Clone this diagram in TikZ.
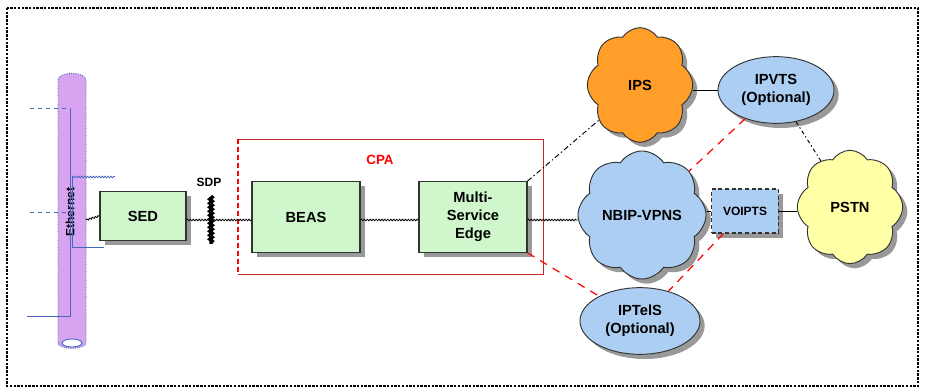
\documentclass[tikz,border=0pt]{standalone}
\usepackage{fontspec}
\setmainfont{Liberation Sans}
\usetikzlibrary{shapes.geometric,shapes.symbols,shadows,decorations.pathmorphing}
\definecolor{boxgreen}{RGB}{208,246,204}
\definecolor{netblue}{RGB}{172,206,242}
\definecolor{ipsorange}{RGB}{255,158,40}
\definecolor{pstnyellow}{RGB}{255,255,165}
\definecolor{ethpurple}{RGB}{216,164,242}
\definecolor{ethline}{RGB}{70,105,190}
\definecolor{cpared}{RGB}{200,40,40}
\begin{document}
\begin{tikzpicture}[x=0.75pt,y=-0.75pt,font=\bfseries\color{black!80}]
      \tikzstyle{shadowed}=[drop shadow={shadow xshift=3.5pt,shadow yshift=-3.5pt,fill=gray!80,opacity=1}]
      \tikzstyle{box}=[draw=black!80,line width=0.8pt,fill=boxgreen,shadowed,align=center,font=\fontsize{11}{13.5}\selectfont\bfseries]
      \tikzstyle{net}=[draw=black!80,line width=0.7pt,cloud,cloud puffs=8,cloud puff arc=115,aspect=1,shadowed,inner sep=0pt,font=\fontsize{11}{13.5}\selectfont\bfseries]
      \tikzstyle{oval}=[draw=black!80,line width=0.7pt,ellipse,fill=netblue,shadowed,inner sep=0pt,align=center,font=\fontsize{11}{13.5}\selectfont\bfseries]
      \tikzstyle{wave}=[draw,line width=0.6pt,decorate,decoration={snake,amplitude=0.6pt,segment length=2.2pt}]
      \tikzstyle{link}=[draw,line width=0.7pt]
      \tikzstyle{optlink}=[draw,red,line width=0.9pt,dash pattern=on 6pt off 5pt]
      \useasboundingbox (0,0) rectangle (925,391);
      \path[draw,line width=1.8pt,densely dotted] (7,8) rectangle (918,386);
      % ethernet bus
      \path[draw=ethline,densely dotted,line width=0.7pt,fill=ethpurple] (58,343) -- (58,80) arc[start angle=180,end angle=0,x radius=10.5pt,y radius=5pt] -- (86,343) arc[start angle=0,end angle=-180,x radius=10.5pt,y radius=4pt] -- cycle;
      \path[draw=ethline,line width=0.7pt,fill=white] (72,343) ellipse[x radius=7.5pt,y radius=3pt];
      \node[rotate=90,font=\fontsize{9}{10}\selectfont\bfseries] (ethlbl) at (70,212) {Ethernet};
      \coordinate (h1) at (30,108);
      \coordinate (h1b) at (70,108);
      \coordinate (h2) at (27,316);
      \coordinate (h2b) at (70,316);
      \coordinate (h3) at (30,212);
      \coordinate (h3b) at (70,212);
      \coordinate (h4) at (72,177);
      \coordinate (h4b) at (115,177);
      \coordinate (h5) at (72,247);
      \coordinate (h5b) at (104,247);
      \coordinate (ethtap) at (86,220);
      \path[draw=ethline,dashed,line width=0.7pt] (h1) -- (h1b);
      \path[draw=ethline,dashed,line width=0.7pt] (h3) -- (h3b);
      \path[draw=ethline,line width=0.7pt] (h1b) -- (h2b) -- (h2);
      \path[draw=ethline,line width=0.7pt] (h5b) -- (h5) -- (h4);
      \path[wave,ethline] (h4) -- (h4b);
      % CPA area
      \path[draw=cpared,line width=0.7pt] (238,139) -- (543,139) -- (543,274) -- (238,274);
      \path[draw=red,line width=1pt,dash pattern=on 4pt off 2pt] (238,139) -- (238,274);
      \node[red,font=\fontsize{10}{12}\selectfont\bfseries] (cpa) at (380,160) {CPA};
      % boxes
      \node[box,minimum width=64.5pt,minimum height=36.75pt] (sed) at (143,216) {SED};
      \node[box,minimum width=81pt,minimum height=53pt] (beas) at (306,217) {BEAS};
      \node[box,minimum width=81pt,minimum height=53pt] (mse) at (473,217) {Multi-\\Service\\Edge};
      \node[draw=black!80,line width=0.8pt,densely dashed,fill=netblue,shadowed,minimum width=50pt,minimum height=33pt,font=\fontsize{9}{11}\selectfont\bfseries] (voipts) at (745,211) {VOIPTS};
      % networks
      \node[net,fill=ipsorange,minimum width=79pt,minimum height=86pt] (ips) at (640,85) {IPS};
      \node[net,fill=netblue,minimum width=80pt,minimum height=86pt] (nbip) at (642,215) {NBIP-VPNS};
      \node[net,fill=pstnyellow,minimum width=79pt,minimum height=85pt] (pstn) at (850,207) {PSTN};
      \node[oval,minimum width=87pt,minimum height=50pt] (ipvts) at (776,90) {IPVTS\\(Optional)};
      \node[oval,minimum width=90pt,minimum height=50pt] (iptels) at (640,321) {IPTelS\\(Optional)};
      % SDP
      \node[font=\fontsize{9}{10}\selectfont\bfseries] (sdp) at (209,182) {SDP};
      \coordinate (sdptop) at (211,196);
      \coordinate (sdpbot) at (211,244);
      % connectors
      \path[wave] (ethtap) -- (sed.west);
      \path[wave] (sed.east |- ethtap) -- (beas.west |- ethtap);
      \path[wave] (beas.east |- ethtap) -- (mse.west |- ethtap);
      \path[wave] (mse.east |- ethtap) -- (nbip.west |- ethtap);
      \path[draw,line width=2.6pt,decorate,decoration={snake,amplitude=0.9pt,segment length=3pt}] (sdptop) -- (sdpbot);
      \path[link] (ips.east |- ipvts.west) -- (ipvts.west);
      \path[link,dash pattern=on 4pt off 2pt on 1pt off 2pt] (mse.north east) -- (ips);
      \path[link,dash pattern=on 3pt off 2pt on 1pt off 2pt] (ipvts) -- (pstn);
      \path[link] (nbip.east |- voipts.west) -- (voipts.west);
      \path[link] (voipts.east) -- (pstn.west |- voipts.east);
      \path[optlink] (ipvts) -- (nbip);
      \path[optlink] (mse.south east) -- (iptels);
      \path[optlink] (voipts) -- (iptels);
    \end{tikzpicture}
\end{document}
